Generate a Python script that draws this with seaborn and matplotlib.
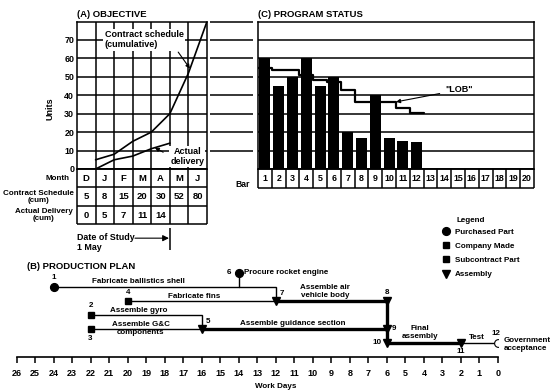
import matplotlib
matplotlib.use("Agg")
import matplotlib.pyplot as plt
from matplotlib.lines import Line2D
import numpy as np
import pandas as pd
import seaborn as sns

# (A) objective
months = ["D", "J", "F", "M", "A", "M", "J"]
contract_cum = [5, 8, 15, 20, 30, 52, 80]
actual_cum = [0, 5, 7, 11, 14]
unit_ticks = [0, 10, 20, 30, 40, 50, 60, 70]

# (C) program status
bar_numbers = list(range(1, 21))
bar_units = [60, 45, 50, 60, 45, 50, 20, 17, 40, 17, 15, 14.5]
lob_units = [55, 53.5, 53.5, 51, 48.5, 47, 43, 36.5, 36.5, 36.5, 33, 30.5]

# (B) production plan
work_days = list(range(26, -1, -1))
event_ids = list(range(1, 13))
event_days = [24, 22, 22, 20, 16, 14, 12, 6, 6, 6, 2, 0]
event_rows = [1, 3, 4, 2, 4, 0, 2, 2, 4, 5, 5, 5]
event_kinds = ["purchased", "subcontract", "subcontract", "company", "assembly",
               "purchased", "assembly", "assembly", "assembly", "assembly",
               "assembly", "acceptance"]
event_notes = {6: "Procure rocket engine", 12: "Government\nacceptance"}
activity_from = [1, 4, 7, 2, 3, 5, 8, 10, 11]
activity_to = [7, 7, 8, 5, 5, 9, 10, 11, 12]
activity_names = ["Fabricate ballistics shell", "Fabricate fins", "Assemble air\nvehicle body",
                  "Assemble gyro", "Assemble G&C\ncomponents", "Assemble guidance section",
                  "", "Final\nassembly", "Test"]
activity_critical = [False, False, True, False, False, True, True, True, False]

# label placement (layout only)
activity_label_day = [19.4, 16.4, 9.35, 19.4, 19.3, 11.1, 6, 4.2, 1.16]
activity_label_dy = [-0.36, -0.32, -0.68, -0.32, 0.0, -0.34, 0, -0.7, -0.38]
event_label_offset = {1: (0, -0.68, "center"), 2: (0, -0.62, "center"), 3: (0, 0.68, "center"),
                      4: (0, -0.58, "center"), 5: (-0.32, -0.5, "center"), 6: (0.52, 0, "center"),
                      7: (-0.32, -0.5, "center"), 8: (0, -0.58, "center"), 9: (-0.38, 0, "center"),
                      10: (0.55, 0, "center"), 11: (0, 0.62, "center"), 12: (0.1, -0.68, "center")}

W, H = 557, 391
LW = 1.1
BLACK = "black"


def px_box(left, top, right, bottom):
    return [left / W, 1 - bottom / H, (right - left) / W, (bottom - top) / H]


sns.set_theme(style="white", rc={"axes.edgecolor": BLACK, "text.color": BLACK,
                                 "xtick.color": BLACK, "ytick.color": BLACK,
                                 "axes.labelcolor": BLACK, "axes.linewidth": LW})
plt.rcParams["font.family"] = ["Liberation Sans", "DejaVu Sans"]
plt.rcParams["font.weight"] = "bold"

fig = plt.figure(figsize=(W / 100, H / 100), dpi=100)

# ---------------- (A) OBJECTIVE ----------------
ax_a = fig.add_axes(px_box(77, 21.5, 207, 169))
obj = pd.DataFrame({"month_end": np.arange(1, len(contract_cum) + 1), "units": contract_cum})
act = pd.DataFrame({"month_end": np.arange(1, len(actual_cum) + 1), "units": actual_cum})
sns.lineplot(data=obj, x="month_end", y="units", color=BLACK, lw=1.2, ax=ax_a)
sns.lineplot(data=act, x="month_end", y="units", color=BLACK, lw=1.2, ax=ax_a)
ax_a.set_xlim(0, len(months))
ax_a.set_ylim(0, 80)
ax_a.set_xticks(range(1, len(months)))
ax_a.set_xticklabels([])
ax_a.set_yticks(unit_ticks)
ax_a.tick_params(axis="x", length=0)
ax_a.tick_params(axis="y", length=0, pad=2, labelsize=6.4)
ax_a.grid(True, color=BLACK, lw=LW)
ax_a.set_axisbelow(True)
ax_a.set_xlabel("")
ax_a.set_ylabel("")
ax_a.text(-0.208, 0.41, "Units", rotation=90, ha="center", va="center",
          fontsize=6.5, transform=ax_a.transAxes)
ax_a.set_title("(A) OBJECTIVE", loc="left", fontsize=6.8, fontweight="bold", pad=3)

ax_a.text(1.5, 70, "Contract schedule\n(cumulative)", ha="left", va="center", fontsize=6.5,
          linespacing=1.15, bbox=dict(fc="white", ec="none", pad=1.2), zorder=4)
ax_a.annotate("", xy=(6.08, 54.5), xytext=(5.45, 63.4),
              arrowprops=dict(arrowstyle="-|>", color=BLACK, lw=0.8, mutation_scale=6,
                              shrinkA=0, shrinkB=0), zorder=5)
ax_a.text(5.94, 6.7, "Actual\ndelivery", ha="center", va="center", fontsize=6.5,
          linespacing=1.15, bbox=dict(fc="white", ec="none", pad=0.8), zorder=4)
ax_a.annotate("", xy=(4.19, 11.6), xytext=(4.64, 9.1),
              arrowprops=dict(arrowstyle="-|>", color=BLACK, lw=0.8, mutation_scale=6,
                              shrinkA=0, shrinkB=0), zorder=5)

# table under (A)
ax_t = fig.add_axes(px_box(77, 169, 207, 252))
ax_t.set_xlim(0, len(months))
ax_t.set_ylim(4.5, 0)
ax_t.axis("off")
ax_t.hlines([0, 1, 2, 3], 0, len(months), color=BLACK, lw=LW, clip_on=False)
ax_t.vlines(range(len(months) + 1), 0, 3, color=BLACK, lw=LW, clip_on=False)
for i, m in enumerate(months):
    ax_t.text(i + 0.5, 0.5, m, ha="center", va="center", fontsize=6.8)
for i, v in enumerate(contract_cum):
    ax_t.text(i + 0.5, 1.5, str(v), ha="center", va="center", fontsize=6.8)
for i, v in enumerate(actual_cum):
    ax_t.text(i + 0.5, 2.5, str(v), ha="center", va="center", fontsize=6.8)
ax_t.text(-0.38, 0.5, "Month", ha="right", va="center", fontsize=5.8)
ax_t.text(-2.1, 1.5, "Contract Schedule\n(cum)", ha="center", va="center", fontsize=5.8,
          linespacing=0.95)
ax_t.text(-1.8, 2.5, "Actual Delivery\n(cum)", ha="center", va="center", fontsize=5.8,
          linespacing=0.95)
ax_t.vlines(5, 3.2, 4.4, color=BLACK, lw=LW, clip_on=False)
ax_t.text(0, 3.72, "Date of Study", ha="left", va="center", fontsize=6.4)
ax_t.annotate("", xy=(4.95, 3.75), xytext=(3.12, 3.75),
              arrowprops=dict(arrowstyle="-|>", color=BLACK, lw=0.8, mutation_scale=9,
                              shrinkA=0, shrinkB=0))
ax_t.text(0, 4.25, "1 May", ha="left", va="center", fontsize=6.4)

# connecting grid lines between (A) and (C)
ax_gap = fig.add_axes(px_box(210, 21.5, 253, 169))
ax_gap.set_xlim(0, 1)
ax_gap.set_ylim(0, 80)
ax_gap.axis("off")
ax_gap.hlines(unit_ticks[1:] + [80], 0, 1, color=BLACK, lw=LW, clip_on=False)

# ---------------- (C) PROGRAM STATUS ----------------
ax_c = fig.add_axes(px_box(258, 21.5, 534, 169))
status = pd.DataFrame({"bar": [str(n) for n in bar_numbers[:len(bar_units)]], "units": bar_units})
sns.barplot(data=status, x="bar", y="units", order=[str(n) for n in bar_numbers],
            color=BLACK, saturation=1, width=0.8, errorbar=None, linewidth=0, ax=ax_c)
ax_c.step(np.arange(len(lob_units) + 1) - 0.5, lob_units + [lob_units[-1]], where="post",
          color=BLACK, lw=1.6, zorder=3)
ax_c.set_xlim(-0.5, len(bar_numbers) - 0.5)
ax_c.set_ylim(0, 80)
ax_c.set_yticks(unit_ticks)
ax_c.set_yticklabels([])
ax_c.set_xticks([])
ax_c.tick_params(length=0)
ax_c.grid(True, axis="y", color=BLACK, lw=LW)
ax_c.set_axisbelow(True)
ax_c.set_xlabel("")
ax_c.set_ylabel("")
ax_c.set_title("(C) PROGRAM STATUS", loc="left", fontsize=6.8, fontweight="bold", pad=3)
ax_c.annotate('"LOB"', xy=(9.5, 36.4), xytext=(13.05, 42.9), ha="left", va="center",
              fontsize=6.5,
              arrowprops=dict(arrowstyle="-|>", color=BLACK, lw=0.8, mutation_scale=6,
                              shrinkA=1.5, shrinkB=0))

ax_bar = fig.add_axes(px_box(258, 169, 534, 188))
ax_bar.set_xlim(-0.5, len(bar_numbers) - 0.5)
ax_bar.set_ylim(1, 0)
ax_bar.axis("off")
ax_bar.vlines(np.arange(len(bar_numbers) + 1) - 0.5, 0, 1, color=BLACK, lw=LW, clip_on=False)
ax_bar.hlines([0, 1], -0.5, len(bar_numbers) - 0.5, color=BLACK, lw=LW, clip_on=False)
for i, n in enumerate(bar_numbers):
    ax_bar.text(i, 0.5, str(n), ha="center", va="center", fontsize=6.4)
ax_bar.text(-1.61, 0.79, "Bar", ha="center", va="center", fontsize=6.2)

# ---------------- (B) PRODUCTION PLAN ----------------
ax_b = fig.add_axes(px_box(16.5, 262, 498, 356.7))
ax_b.set_xlim(26, 0)
ax_b.set_ylim(6, -0.75)
pos = {e: (d, r) for e, d, r in zip(event_ids, event_days, event_rows)}

for src, dst, name, crit, lx, ldy in zip(activity_from, activity_to, activity_names,
                                         activity_critical, activity_label_day, activity_label_dy):
    d0, r0 = pos[src]
    d1, r1 = pos[dst]
    ax_b.plot([d0, d1, d1], [r0, r0, r1], color=BLACK, lw=2.4 if crit else 1.0,
              solid_capstyle="butt", solid_joinstyle="miter", zorder=2)
    if name:
        ax_b.text(lx, r0 + ldy, name, ha="center", va="center", fontsize=5.8,
                  linespacing=1.2, zorder=4)

# purchased engine feeds into the shell line
ax_b.plot([pos[6][0], pos[6][0]], [pos[6][1], pos[1][1]], color=BLACK, lw=1.0, zorder=2)

marker_style = {"purchased": dict(marker="o", ms=5.6, mfc=BLACK, mec=BLACK),
                "company": dict(marker="s", ms=4.6, mfc=BLACK, mec=BLACK),
                "subcontract": dict(marker="s", ms=4.6, mfc=BLACK, mec=BLACK),
                "assembly": dict(marker="v", ms=5.4, mfc=BLACK, mec=BLACK),
                "acceptance": dict(marker="o", ms=5.6, mfc="white", mec=BLACK, mew=0.8)}
for e, d, r, k in zip(event_ids, event_days, event_rows, event_kinds):
    ax_b.plot([d], [r], ls="none", zorder=3, **marker_style[k])
    dx, dy, ha = event_label_offset[e]
    ax_b.text(d + dx, r + dy, str(e), ha=ha, va="center", fontsize=5.8, zorder=4)
for e, note in event_notes.items():
    d, r = pos[e]
    ax_b.text(d - 0.3, r + (0.15 if "\n" in note else 0), note, ha="left", va="center",
              fontsize=5.8, linespacing=1.25, clip_on=False)

ax_b.set_xticks(work_days)
ax_b.set_yticks([])
ax_b.tick_params(axis="x", direction="out", length=4.2, width=LW, pad=5, labelsize=6.5,
                 bottom=True)
for side in ["left", "right", "top"]:
    ax_b.spines[side].set_visible(False)
ax_b.spines["bottom"].set_linewidth(1.2)
ax_b.text(12.0, 8.15, "Work Days", ha="center", va="center", fontsize=5.8, clip_on=False)
ax_b.text(25.43, -0.4, "(B) PRODUCTION PLAN", ha="left", va="center", fontsize=6.8,
          fontweight="bold")

# legend
handles = [Line2D([], [], ls="none", **marker_style["purchased"]),
           Line2D([], [], ls="none", **marker_style["company"]),
           Line2D([], [], ls="none", **marker_style["subcontract"]),
           Line2D([], [], ls="none", **marker_style["assembly"])]
labels = ["Purchased Part", "Company Made", "Subcontract Part", "Assembly"]
fig.legend(handles, labels, loc="upper left", bbox_to_anchor=(442 / W, 1 - 228.5 / H),
           frameon=False, fontsize=5.8, handlelength=1.0, handletextpad=0.6,
           labelspacing=0.8, borderpad=0, borderaxespad=0)
fig.text(456.7 / W, 1 - 220 / H, "Legend", ha="left", va="center", fontsize=5.8)

fig.savefig("out.png", dpi=100)
